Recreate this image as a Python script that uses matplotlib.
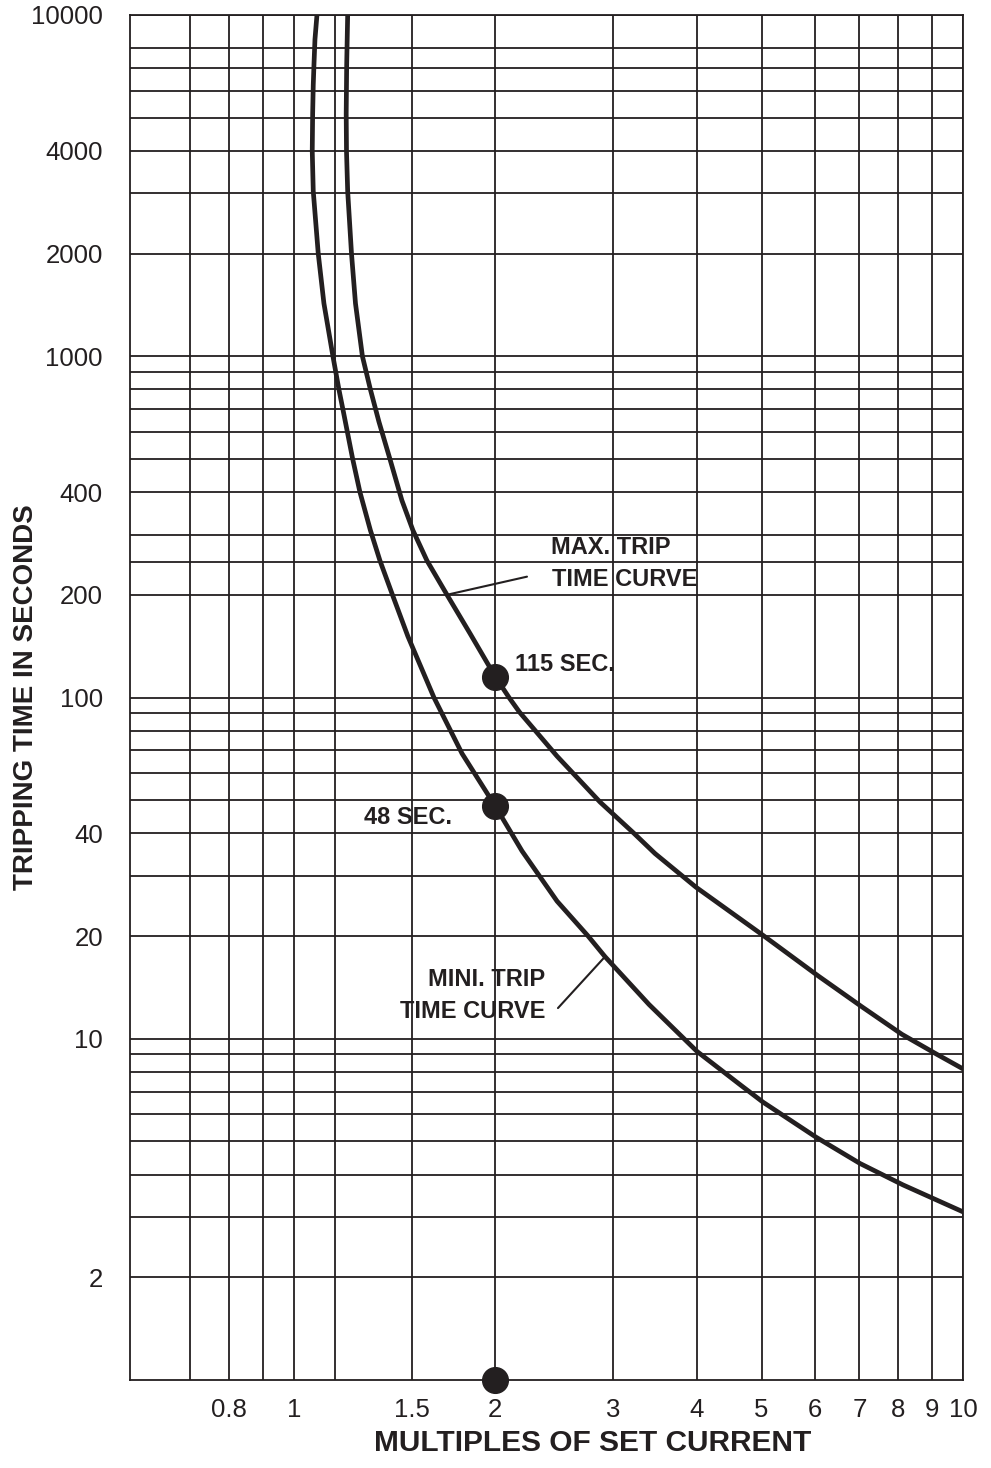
import matplotlib.pyplot as plt
from matplotlib.ticker import FixedLocator, NullFormatter

plt.rcParams['font.family'] = ['Liberation Sans', 'DejaVu Sans']

INK = '#231f20'  # print black used for lines and text

# Max. trip time curve (multiples of set current -> seconds)
max_x = [1.2031, 1.1990, 1.1970, 1.1982, 1.2031, 1.2190, 1.2359, 1.2657, 1.3010, 1.3397,
         1.3914, 1.4500, 1.5060, 1.5803, 1.6933, 1.8332, 2.0, 2.0963, 2.1733, 2.4732,
         2.8672, 3.2223, 3.4645, 3.9898, 5.0241, 6.0698, 7.0645, 8.1063, 9.1428, 10.0]
max_y = [10000, 7143, 5139, 4000, 3047, 2000, 1428, 1000, 799, 643,
         500, 378, 309, 252, 200, 154, 115, 100, 90.6, 67.3,
         49.4, 40, 34.9, 27.8, 20.1, 15.3, 12.4, 10.3, 9.0, 8.16]

# Mini. trip time curve
min_x = [1.0824, 1.0750, 1.0713, 1.0687, 1.0665, 1.0650, 1.0687, 1.0872, 1.1087, 1.1436,
         1.1674, 1.1849, 1.2240, 1.2549, 1.3010, 1.3443, 1.4035, 1.4803, 1.6190, 1.7834,
         2.0, 2.1921, 2.4732, 2.7517, 2.9171, 3.3941, 4.0036, 4.6582, 5.0241, 6.0281,
         7.0160, 8.1341, 10.0]
min_y = [10000, 8482, 7143, 6234, 5139, 4000, 3047, 2000, 1428, 1000,
         799, 691, 500, 400, 309, 252, 200, 151, 100, 68.5,
         48, 35.5, 25.3, 20, 17.4, 12.6, 9.18, 7.30, 6.52, 5.15,
         4.31, 3.73, 3.11]

# marked points at 2x set current
mark_x = [2, 2]
mark_y = [115, 48]
mark_labels = ['115 SEC.', '48 SEC.']
base_mark = 2  # dot sitting on the x axis

# axis ticks / grid
x_ticks = [0.8, 1, 1.5, 2, 3, 4, 5, 6, 7, 8, 9, 10]
x_tick_labels = ['0.8', '1', '1.5', '2', '3', '4', '5', '6', '7', '8', '9', '10']
x_grid = [0.7, 0.9, 1.15]
y_ticks = [2, 10, 20, 40, 100, 200, 400, 1000, 2000, 4000, 10000]
y_tick_labels = ['2', '10', '20', '40', '100', '200', '400', '1000', '2000', '4000', '10000']
y_grid = [3, 4, 5, 6, 7, 8, 9,
          30, 50, 60, 70, 80, 90,
          250, 300, 500, 600, 700, 800, 900,
          3000, 5000, 6000, 7000, 8000]

fig = plt.figure(figsize=(9.91, 14.68), dpi=100)
ax = fig.add_axes([130 / 991, 88 / 1468, 833 / 991, 1365 / 1468])
ax.set_xscale('log')
ax.set_yscale('log')
ax.set_xlim(0.5688, 10)
ax.set_ylim(1, 10000)

# ticks and grid
ax.xaxis.set_major_locator(FixedLocator(x_ticks))
ax.xaxis.set_minor_locator(FixedLocator(x_grid))
ax.yaxis.set_major_locator(FixedLocator(y_ticks))
ax.yaxis.set_minor_locator(FixedLocator(y_grid))
ax.set_xticklabels(x_tick_labels)
ax.set_yticklabels(y_tick_labels)
ax.xaxis.set_minor_formatter(NullFormatter())
ax.yaxis.set_minor_formatter(NullFormatter())
ax.tick_params(which='both', length=0, labelsize=18.5, labelcolor=INK)
ax.tick_params(axis='x', pad=13)
ax.tick_params(axis='y', pad=19.5)
ax.set_axisbelow(True)
ax.grid(which='both', color=INK, lw=1.3)
for s in ax.spines.values():
    s.set_color(INK)
    s.set_linewidth(1.3)

# curves
ax.plot(max_x, max_y, color=INK, lw=3.4, solid_joinstyle='round')
ax.plot(min_x, min_y, color=INK, lw=3.4, solid_joinstyle='round')

# dots
ax.plot(mark_x, mark_y, 'o', ms=18.5, color=INK, zorder=5)
ax.plot([base_mark], [ax.get_ylim()[0]], 'o', ms=18.5, color=INK,
        zorder=5, clip_on=False)

# labels of the dots
ax.text(2.14, 125, mark_labels[0], fontsize=17, fontweight='bold',
        color=INK, ha='left', va='center')
ax.text(1.722, 44.5, mark_labels[1], fontsize=17, fontweight='bold',
        color=INK, ha='right', va='center')

# curve names with leader lines
ax.text(2.42, 275, 'MAX. TRIP', fontsize=17, fontweight='bold',
        color=INK, ha='left', va='center')
ax.text(2.43, 221, 'TIME CURVE', fontsize=17, fontweight='bold',
        color=INK, ha='left', va='center')
ax.annotate('', xy=(1.6933, 200), xytext=(2.23, 226),
            arrowprops=dict(arrowstyle='-', color=INK, lw=1.5,
                            shrinkA=0, shrinkB=0))

ax.text(2.373, 14.9, 'MINI. TRIP', fontsize=17, fontweight='bold',
        color=INK, ha='right', va='center')
ax.text(2.373, 12.0, 'TIME CURVE', fontsize=17, fontweight='bold',
        color=INK, ha='right', va='center')
ax.annotate('', xy=(2.9171, 17.4), xytext=(2.481, 12.3),
            arrowprops=dict(arrowstyle='-', color=INK, lw=1.5,
                            shrinkA=0, shrinkB=0))

# axis titles
ax.set_xlabel('MULTIPLES OF SET CURRENT', fontsize=21.5, fontweight='bold', color=INK)
ax.xaxis.set_label_coords(0.555, -0.036)
ax.set_ylabel('TRIPPING TIME IN SECONDS', fontsize=20, fontweight='bold', color=INK)
ax.yaxis.set_label_coords(-0.109, 0.5)

plt.savefig('out.png', dpi=100)
